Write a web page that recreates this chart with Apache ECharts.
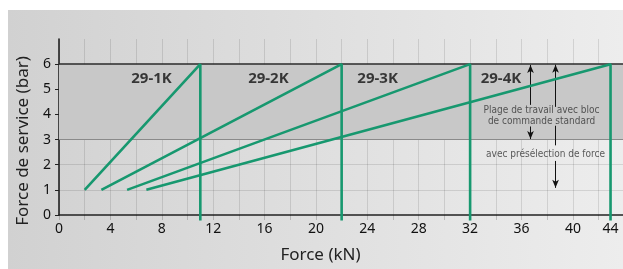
<!DOCTYPE html>
<html><head><meta charset="utf-8">
<script src="https://cdn.jsdelivr.net/npm/echarts@6/dist/echarts.min.js"></script>
<style>html,body{margin:0;padding:0;background:#fff}#c{width:623px;height:269px}</style>
</head><body><div id="c"></div>
<script>
// ---- data ----
const models = ['29-1K', '29-2K', '29-3K', '29-4K'];
const startForce = [2, 3.3, 5.3, 6.8];     // kN at minimum service pressure
const maxForce = [11, 22, 32, 44];         // kN at maximum service pressure
const minPressure = 1;                     // bar
const maxPressure = 6;                     // bar
const lineBottom = -0.22;                  // vertical lines run a little under the axis
const standardRange = [3, 6];              // bar, "Plage de travail avec bloc de commande standard"
const presetRange = [1.08, 6];             // bar, "avec présélection de force"
const xTicks = [0, 4, 8, 12, 16, 20, 24, 28, 32, 36, 40, 44];
const yTicks = [0, 1, 2, 3, 4, 5, 6];
const modelLabelPos = [[7.2, 5.4], [16.3, 5.4], [24.8, 5.4], [34.4, 5.4]];
const noteText1 = 'Plage de travail avec bloc\nde commande standard';
const noteText2 = 'avec présélection de force';

// The original drawing compresses the last step (40 → 44) of the force axis.
function axisPos(kN) { return kN <= 40 ? kN : 40 + (kN - 40) * 0.7325; }

const green = '#17986f';
const FONT = 'Noto Sans';

const modelSeries = models.map((m, i) => ({
  type: 'line', name: m, z: 6, clip: false, symbol: 'none', silent: true,
  lineStyle: { color: green, width: 2.6 },
  data: [[axisPos(startForce[i]), minPressure], [axisPos(maxForce[i]), maxPressure], [axisPos(maxForce[i]), lineBottom]]
}));

const arrowX1 = 36.7, arrowX2 = 38.65;
const arrowStyle = { color: '#111', width: 1, type: 'solid' };
function seg(x, y0, y1) { return [{ coord: [x, y0] }, { coord: [x, y1] }]; }

const chart = echarts.init(document.getElementById('c'), null, { renderer: 'canvas' });
chart.setOption({
  animation: false,
  textStyle: { fontFamily: FONT },
  graphic: [{
    type: 'rect', z: -20, silent: true,
    shape: { x: 8, y: 10, width: 615, height: 259 },
    style: { fill: new echarts.graphic.LinearGradient(0, 0, 1, 0, [
      { offset: 0, color: '#d1d1d1' }, { offset: 1, color: '#ededed' }]) }
  }],
  grid: { left: 59, right: 0, top: 39, bottom: 50, containLabel: false },
  xAxis: {
    type: 'value', min: 0, max: 43.9, interval: 2,
    name: 'Force (kN)', nameLocation: 'middle', nameGap: 32,
    nameTextStyle: { fontSize: 17, color: '#222', padding: [0, 41, 0, 0] },
    axisLine: { show: true, onZero: false, lineStyle: { color: '#222', width: 1.6 } },
    axisTick: { show: true, length: 5, lineStyle: { color: 'rgba(0,0,0,0.18)' } },
    axisLabel: {
      customValues: xTicks.map(axisPos), fontSize: 14, color: '#111', margin: 7,
      formatter: v => { const k = xTicks.find(t => Math.abs(axisPos(t) - v) < 1e-6); return k === undefined ? '' : String(k); }
    },
    splitLine: { show: true, lineStyle: { color: 'rgba(0,0,0,0.11)', width: 1 } }
  },
  yAxis: {
    type: 'value', min: 0, max: 7, interval: 1,
    name: 'Force de service (bar)', nameLocation: 'middle', nameGap: 23,
    nameTextStyle: { fontSize: 17, color: '#222', padding: [0, 28, 0, 0] },
    axisLine: { show: true, lineStyle: { color: '#222', width: 1.6 } },
    axisTick: { show: true, length: 4, customValues: yTicks, lineStyle: { color: '#222' } },
    axisLabel: { customValues: yTicks, fontSize: 14, color: '#111', margin: 8 },
    splitLine: { show: true, lineStyle: { color: ['transparent', 'rgba(0,0,0,0.11)', 'rgba(0,0,0,0.11)', 'transparent', 'rgba(0,0,0,0.11)', 'rgba(0,0,0,0.11)', 'transparent', 'transparent'], width: 1 } }
  },
  series: [
    { type: 'line', z: -5, data: [], silent: true,
      markArea: { silent: true, itemStyle: { color: '#c8c8c8' },
        data: [[{ yAxis: standardRange[0] }, { yAxis: standardRange[1] }]] } },
    { type: 'line', z: 3, data: [], silent: true,
      markLine: { silent: true, symbol: 'none', label: { show: false },
        data: [
          { yAxis: standardRange[0], lineStyle: { color: '#8a8a8a', width: 1, type: 'solid' } },
          { yAxis: maxPressure, lineStyle: { color: '#2a2a2a', width: 1.6, type: 'solid' } }
        ] } },
    ...modelSeries,
    { type: 'line', z: 4, data: [], silent: true,
      markLine: { silent: true, symbol: ['none', 'arrow'], symbolSize: [5, 8], label: { show: false },
        lineStyle: arrowStyle,
        data: [
          seg(arrowX1, 4.38, standardRange[1] - 0.03),
          seg(arrowX1, 3.52, standardRange[0] + 0.02),
          seg(arrowX2, 4.3, presetRange[1] - 0.02),
          seg(arrowX2, 2.15, presetRange[0])
        ] } },
    { type: 'line', z: 4, data: [], silent: true,
      markLine: { silent: true, symbol: 'none', label: { show: false }, lineStyle: arrowStyle,
        data: [ seg(arrowX2, 3.55, 2.77) ] } },
    { type: 'scatter', z: 7, symbolSize: 0, silent: true,
      label: { show: true, position: 'inside', formatter: '{b}', fontSize: 15, fontWeight: 'bold', color: '#111', fontFamily: FONT },
      data: models.map((m, i) => ({ name: m, value: modelLabelPos[i] })) },
    { type: 'scatter', z: 7, symbolSize: 0, silent: true,
      label: { show: true, position: 'inside', formatter: '{b}', fontSize: 10, lineHeight: 11.5, color: '#333',
        fontFamily: 'DejaVu Sans Condensed' },
      data: [{ name: noteText1, value: [37.56, 3.95] }, { name: noteText2, value: [37.87, 2.42] }] }
  ]
});
</script></body></html>
